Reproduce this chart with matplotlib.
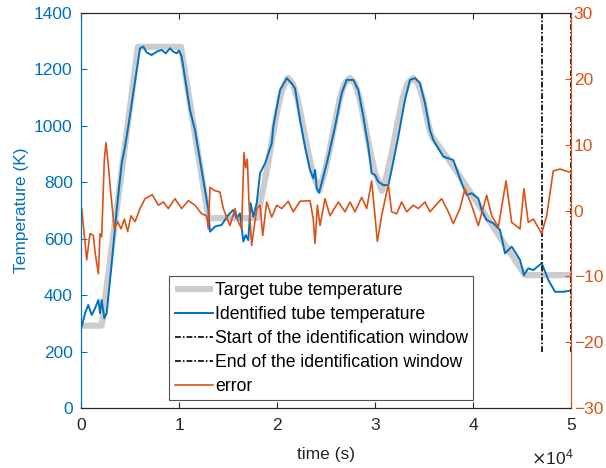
import matplotlib.pyplot as plt
import numpy as np

plt.rcParams['font.family'] = ['Liberation Sans', 'DejaVu Sans']

# target tube temperature (K)
t_target = [0, 2100, 5800, 10200, 13000, 18000, 18500, 19000, 19500, 20000, 20500, 21100,
            21600, 22100, 22600, 23100, 23600, 24300, 24900, 25400, 25900, 26400, 26900, 27450,
            27950, 28450, 28950, 29450, 29950, 30700, 31300, 31800, 32300, 32800, 33300, 33900,
            34400, 34900, 35400, 35800, 37650, 45300, 50000]
T_target = [292, 292, 1280, 1280, 673, 673, 760, 850, 950, 1050, 1125, 1170,
            1150, 1095, 1010, 920, 840, 770, 840, 920, 1010, 1095, 1150, 1170,
            1150, 1095, 1010, 920, 840, 770, 840, 920, 1010, 1095, 1150, 1170,
            1150, 1095, 1010, 962, 874, 471, 471]

# identified tube temperature (K)
t_ident = [0, 70, 410, 740, 1090, 1430, 1770, 1940, 2110, 2380, 2620, 3130, 3640, 4150, 4490,
           4830, 6020, 6360, 6700, 7210, 7720, 8230, 8640, 9080, 9420, 9760, 10000, 10270,
           11120, 11630, 12990, 13160, 13670, 14350, 15030, 15540, 15880, 16220, 16560, 16800,
           17070, 17310, 17580, 17930, 18270, 18780, 19460, 19620, 20310, 20990, 21500, 21840,
           22350, 22860, 23370, 23700, 23880, 24050, 24290, 24730, 25240, 25920, 26600, 27110,
           27790, 28300, 28810, 29320, 29660, 30000, 30340, 30850, 31360, 31700, 32380, 33060,
           33570, 34080, 34590, 35100, 35610, 35950, 36970, 37990, 38840, 39350, 39860, 40540,
           40880, 41400, 42080, 42760, 43270, 43950, 44800, 45200, 45640, 46160, 47010, 47690,
           48370, 49220, 50000]
T_ident = [288, 288, 336, 365, 330, 353, 383, 336, 383, 318, 336, 513, 702, 867, 926,
           1000, 1275, 1281, 1260, 1251, 1263, 1269, 1257, 1275, 1263, 1257, 1267, 1246,
           1056, 985, 702, 625, 643, 649, 684, 702, 672, 690, 590, 613,
           595, 726, 678, 726, 832, 867, 938, 997, 1127, 1169, 1151, 1133,
           1021, 926, 844, 814, 844, 779, 763, 820, 891, 997, 1116, 1163,
           1163, 1127, 1033, 926, 832, 826, 802, 790, 790, 844, 962, 1092,
           1163, 1169, 1151, 1080, 985, 950, 891, 879, 797, 755, 761, 743,
           702, 666, 655, 631, 548, 572, 525, 471, 495, 489, 513, 454,
           412, 412, 416]

# error (right axis)
t_err = [0, 70, 580, 920, 1260, 1430, 1770, 1940, 2110, 2380, 2550, 2790, 3060, 3400, 3740,
         4080, 4420, 4760, 5100, 5510, 6020, 6530, 7280, 7890, 8400, 8910, 9590, 10270, 10950,
         11630, 12310, 12820, 12990, 13160, 13670, 14180, 14520, 15200, 15710, 16050, 16390,
         16630, 16800, 16970, 17140, 17410, 17930, 18270, 18540, 18950, 19460, 19970, 20480,
         21150, 21660, 22350, 23370, 23700, 23880, 24120, 24390, 24900, 25410, 26260, 26940,
         27450, 27960, 28640, 29150, 29660, 30000, 30240, 30680, 31360, 31700, 32210, 32720,
         33230, 33910, 34420, 35100, 35610, 36800, 37480, 37990, 38670, 39180, 39860, 40540,
         41400, 41910, 42590, 43370, 43950, 44800, 45200, 45640, 46160, 47010, 47520, 48190,
         48880, 49900]
err = [0.3, 0.3, -7.5, -3.5, -3.8, -6.3, -9.6, -3.5, -4.0, 7.8, 10.3, 6.8, 2.3, -2.8, -1.7,
       -2.8, -1.3, -3.2, -0.8, -1.7, 0.3, 1.8, 2.4, 0.8, 1.3, 0.3, 1.8, 0.3, 1.5,
       0.8, -0.5, -0.8, -2.8, 3.5, 3.0, 2.8, 0.3, -2.3, 0.3, -1.7, -2.8,
       8.8, 6.5, 7.8, 1.3, -5.3, 0.3, 0.8, -3.8, 1.3, -1.0, 0.8, 0.3,
       1.4, -0.2, 1.4, 1.5, -1.3, -5.0, 0.8, -2.3, 1.8, -0.8, 1.3, -0.2,
       1.3, -0.2, 2.0, 0.3, 4.5, -0.8, -4.7, -0.8, 4.0, -0.2, -0.5, 1.3,
       -0.2, 0.8, 0.3, 1.3, -0.2, 1.8, -0.2, -2.0, 0.3, 3.3, 0.8, -2.3,
       2.3, -0.8, -2.5, 4.5, -1.8, -2.8, 3.3, -1.8, -1.3, -3.5, -0.8, 6.0,
       6.3, 5.8]

t_start = 47000
t_end = 50000

blue = '#0072BD'
orange = '#D95319'
fs = 12.5

fig = plt.figure(figsize=(6.06, 4.68), dpi=100)
ax = fig.add_axes([0.1337, 0.1282, 0.8085, 0.844])
ax2 = ax.twinx()

l1, = ax.plot(t_target, T_target, color='#cccccc', lw=4.5, solid_capstyle='butt',
              label='Target tube temperature')
l2, = ax.plot(t_ident, T_ident, color=blue, lw=1.4, label='Identified tube temperature')
dd = (0, (3.5, 1.2, 1, 1.2))
l3, = ax.plot([t_start, t_start], [200, 1400], color='k', lw=1.2, ls=dd,
              label='Start of the identification window')
l4, = ax.plot([t_end, t_end], [200, 1400], color='k', lw=1.2, ls=dd,
              label='End of the identification window')
l5, = ax2.plot(t_err, err, color=orange, lw=1.2, label='error')

ax.set_xlim(0, 50000)
ax.set_ylim(0, 1400)
ax2.set_ylim(-30, 30)
ax.set_xticks([0, 10000, 20000, 30000, 40000, 50000])
ax.set_xticklabels(['0', '1', '2', '3', '4', '5'])
ax.set_yticks(range(0, 1401, 200))
ax2.set_yticks(range(-30, 31, 10))

ax.tick_params(axis='x', direction='in', top=True, length=4, pad=7, labelsize=fs,
               colors='#262626')
ax.tick_params(axis='y', direction='in', length=4, pad=6, labelsize=fs, colors=blue)
ax2.tick_params(axis='y', direction='in', length=4, pad=2, labelsize=fs, colors=orange)
for a in (ax, ax2):
    a.spines['top'].set_color('#262626')
    a.spines['bottom'].set_color('#262626')
    a.spines['left'].set_color(blue)
    a.spines['right'].set_color(orange)

ax.set_xlabel('time (s)', fontsize=fs, color='#262626', labelpad=10)
ax.set_ylabel('Temperature (K)', fontsize=fs, color=blue, labelpad=4)
ax.text(1.005, -0.1, r'$\times\mathregular{10^4}$', transform=ax.transAxes, ha='right',
        va='top', fontsize=fs, color='#262626')

leg = ax2.legend(handles=[l1, l2, l3, l4, l5], loc='upper left', bbox_to_anchor=(0.18, 0.333),
                 fontsize=12.7, frameon=True, fancybox=False, handlelength=2.2,
                 handletextpad=0.1, borderpad=0.3, labelspacing=0.4, borderaxespad=0)
leg.get_frame().set_edgecolor('#262626')
leg.get_frame().set_linewidth(0.8)

fig.savefig('out.png', dpi=100)
